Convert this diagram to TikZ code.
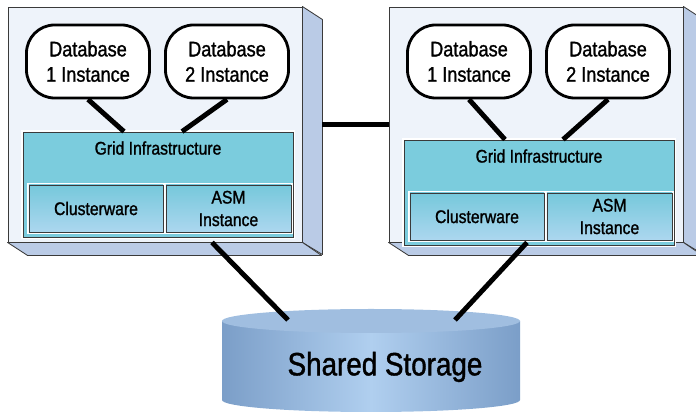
\documentclass[tikz,border=0pt]{standalone}
\usepackage{fontspec}
\newfontfamily\condfont{Liberation Sans}[FakeStretch=0.86, FakeBold=1.2]
\definecolor{srvfront}{HTML}{EEF3FA}
\definecolor{srvside}{HTML}{BACBE6}
\definecolor{edgegray}{HTML}{3A3A3A}
\definecolor{gridfill}{HTML}{7BCCDD}
\definecolor{subtop}{HTML}{76C8DB}
\definecolor{subbot}{HTML}{ACD7EF}
\definecolor{storedge}{HTML}{7B9EC8}
\definecolor{storemid}{HTML}{B0CFEF}
\definecolor{stortop}{HTML}{A0BEE0}

\begin{document}
\begin{tikzpicture}[x=0.025cm, y=0.025cm,
  srvface/.style={draw=edgegray, line width=0.6pt, fill=srvfront,
    minimum width=7.35cm, minimum height=5.875cm, inner sep=0pt},
  srvdepth/.style={draw=edgegray, line width=0.6pt, fill=srvside, line join=round},
  dbnode/.style={draw=black, line width=2pt, fill=white, rounded corners=20pt,
    minimum width=3.075cm, minimum height=1.825cm, align=center,
    font=\condfont\fontsize{15}{18}\selectfont},
  gridnode/.style={preaction={draw=white, line width=3pt}, draw=edgegray,
    line width=0.6pt, fill=gridfill, minimum width=6.75cm,
    minimum height=2.625cm, inner sep=0pt},
  subnode/.style={preaction={draw=white, line width=3pt}, draw=edgegray,
    line width=0.6pt, top color=subtop, bottom color=subbot,
    minimum height=1.175cm, align=center, inner sep=0pt,
    font=\condfont\fontsize{13}{16}\selectfont},
  link/.style={line width=3.5pt, black}]
\useasboundingbox (0,0) rectangle (696,413);
% the two servers
\foreach \s/\ox/\gy in {L/0/0, R/381/8}{
\node[srvface] (srv\s) at (155+\ox, 288.5) {};
\draw[srvdepth] (srv\s.north east) -- ++(20,-13) -- ++(0,-235) -- (srv\s.south east) -- cycle;
\draw[srvdepth] (srv\s.south west) -- ++(20,-13) -- ++(294,0) -- (srv\s.south east) -- cycle;
% grid infrastructure with its two parts
\node[gridnode, label={[anchor=north, yshift=-0.12cm,
  font=\condfont\fontsize{13}{16}\selectfont]north:Grid Infrastructure}]
  (grid\s) at (158+\ox, 228.5-\gy) {};
\node[subnode, minimum width=3.35cm] (clw\s) at (96+\ox, 204.5-\gy) {Clusterware};
\node[subnode, minimum width=3.125cm] (asm\s) at (228.5+\ox, 204.5-\gy) {ASM\\Instance};
% database instances
\node[dbnode] (db1\s) at (88+\ox, 351.5) {Database\\1 Instance};
\node[dbnode] (db2\s) at (227+\ox, 351.5) {Database\\2 Instance};
\coordinate (g1\s) at ([xshift=-0.85cm]grid\s.north);
\coordinate (g2\s) at ([xshift=0.6cm]grid\s.north);
\draw[link] (db1\s.south) -- (g1\s);
\draw[link] (db2\s.south) -- (g2\s);
}
% interconnect
\draw[link] ([xshift=0.5cm]srvL.east) -- (srvR.west);
% shared storage
\shade[left color=storedge, right color=storedge, middle color=storemid]
  (222,92) -- (222,13) arc[start angle=180, end angle=360, x radius=149, y radius=12]
  -- (520,92) -- cycle;
\fill[stortop] (371,92) ellipse [x radius=149, y radius=12];
\node[font=\condfont\fontsize{23}{27}\selectfont] (stor) at (385,46) {Shared Storage};
\coordinate (storL) at (288,93);
\coordinate (storR) at (455,93);
\draw[link] ([xshift=1.425cm]srvL.south) -- (storL);
\draw[link] ([xshift=-0.225cm]srvR.south) -- (storR);
\end{tikzpicture}
\end{document}
